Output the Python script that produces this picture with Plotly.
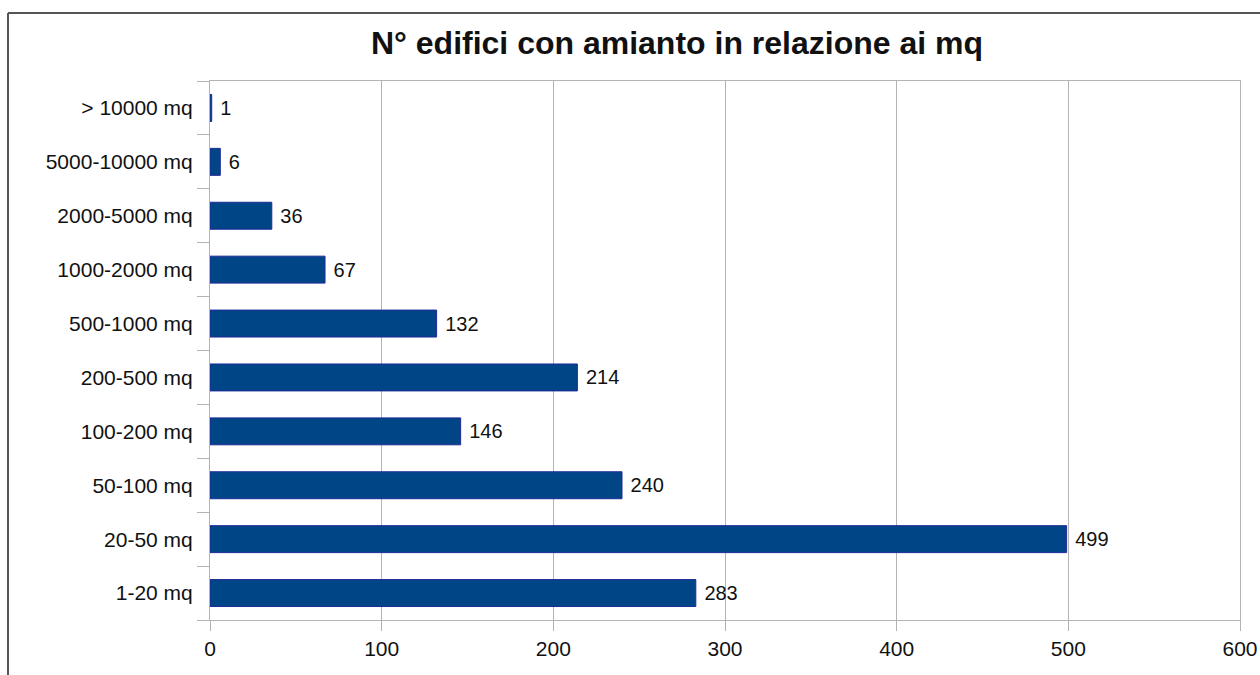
import plotly.graph_objects as go

categories = ["1-20 mq", "20-50 mq", "50-100 mq", "100-200 mq", "200-500 mq",
              "500-1000 mq", "1000-2000 mq", "2000-5000 mq", "5000-10000 mq", "> 10000 mq"]
values = [283, 499, 240, 146, 214, 132, 67, 36, 6, 1]
x_ticks = [0, 100, 200, 300, 400, 500, 600]
title_text = "N° edifici con amianto in relazione ai mq"

FONT = "Liberation Sans, Arial, sans-serif"
GRID = "#b3b3b3"

fig = go.Figure(go.Bar(
    y=categories, x=values, orientation="h",
    marker=dict(color="#004586", line=dict(color="#1f2a9a", width=1)),
    width=0.5,
    text=[" " + str(v) for v in values], textposition="outside",
    textfont=dict(family=FONT, size=20, color="#111111"),
    cliponaxis=False,
))

fig.update_layout(
    width=1260, height=675,
    paper_bgcolor="white", plot_bgcolor="white",
    margin=dict(l=210, r=20, t=81, b=55, autoexpand=False),
    title=dict(text="<b>" + title_text + "</b>", x=677 / 1260, xref="container", xanchor="center",
               y=1 - 43 / 675, yanchor="middle",
               font=dict(family=FONT, size=32, color="#111111")),
    showlegend=False,
    font=dict(family=FONT, size=20, color="#111111"),
    xaxis=dict(range=[0, 600], tickvals=x_ticks, showgrid=True, gridcolor=GRID, gridwidth=1,
               showline=True, linecolor=GRID, linewidth=1, mirror=True, automargin=False,
               ticks="outside", ticklen=10, tickcolor=GRID, zeroline=False,
               tickfont=dict(family=FONT, size=21, color="#111111")),
    yaxis=dict(type="category", categoryorder="array", categoryarray=categories,
               showgrid=False, showline=True, linecolor=GRID, linewidth=1, mirror=True,
               automargin=False,
               ticks="outside", ticklen=12, tickcolor=GRID, tickson="boundaries",
               ticklabelstandoff=12,
               tickfont=dict(family=FONT, size=21, color="#111111")),
)

# outer chart frame (left and top edges visible)
fig.add_shape(type="line", xref="paper", yref="paper",
              x0=(8 - 210) / 1030, x1=(8 - 210) / 1030, y0=(620 - 13) / 539, y1=(620 - 700) / 539,
              line=dict(color="#555555", width=2))
fig.add_shape(type="line", xref="paper", yref="paper",
              x0=(8 - 210) / 1030, x1=(1300 - 210) / 1030, y0=(620 - 13) / 539, y1=(620 - 13) / 539,
              line=dict(color="#555555", width=2))

fig.write_html("out.html", config={"displayModeBar": False},
               post_script="document.body.style.margin='0px';")
